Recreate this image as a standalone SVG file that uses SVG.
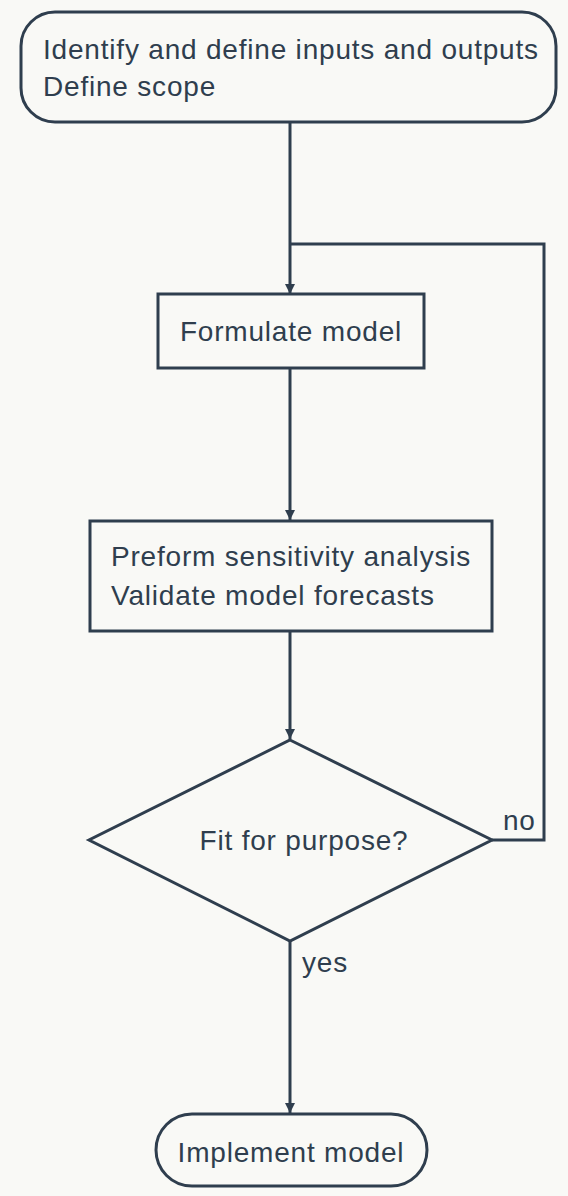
<svg xmlns="http://www.w3.org/2000/svg" width="568" height="1196" viewBox="0 0 568 1196">
<style>
.s{fill:#f9f9f6;stroke:#2f3e4e;stroke-width:3}
.c{fill:none;stroke:#2f3e4e;stroke-width:3}
text{font-family:"Liberation Sans",Arial,sans-serif;font-size:28px;letter-spacing:0.8px;fill:#2f3e4e}
.m{text-anchor:middle}
</style>
<defs>
<marker id="a" viewBox="0 0 10 10" refX="10" refY="5" markerWidth="10" markerHeight="10" markerUnits="userSpaceOnUse" orient="auto">
<path d="M0,0 L10,5 L0,10 Z" fill="#2f3e4e"/>
</marker>
</defs>
<rect width="568" height="1196" fill="#f9f9f6"/>
<g id="connectors">
<path class="c" d="M290,122 V294" marker-end="url(#a)"/>
<path class="c" d="M290,368 V520" marker-end="url(#a)"/>
<path class="c" d="M290,631 V739" marker-end="url(#a)"/>
<path class="c" d="M492,840 H544 V244 H290"/>
<path class="c" d="M290,941 V1113" marker-end="url(#a)"/>
<text x="503" y="830">no</text>
<text x="302" y="972">yes</text>
</g>
<g id="start">
<rect class="s" x="21" y="12" width="535" height="110" rx="34"/>
<text x="43" y="59">Identify and define inputs and outputs</text>
<text x="43" y="96">Define scope</text>
</g>
<g id="formulate">
<rect class="s" x="158" y="294" width="266" height="74"/>
<text class="m" x="291" y="341">Formulate model</text>
</g>
<g id="analysis">
<rect class="s" x="90" y="521" width="402" height="110"/>
<text x="111" y="566">Preform sensitivity analysis</text>
<text x="111" y="605">Validate model forecasts</text>
</g>
<g id="decision">
<polygon class="s" points="290,740 492,840 290,941 89,840"/>
<text class="m" x="304" y="850">Fit for purpose?</text>
</g>
<g id="end">
<rect class="s" x="156" y="1114" width="271" height="72" rx="36"/>
<text class="m" x="291" y="1162">Implement model</text>
</g>
</svg>
